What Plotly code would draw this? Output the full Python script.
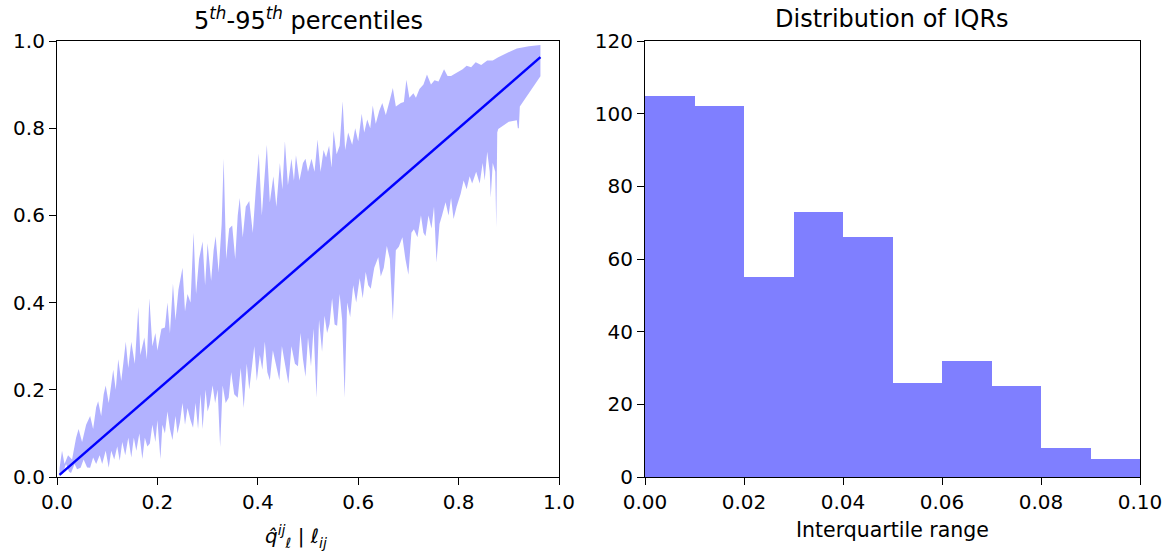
import plotly.graph_objects as go

# ---------------- data ----------------
# Upper (95th percentile) envelope
upper_x = [0.005,0.010,0.015,0.022,0.030,0.038,0.043,0.050,0.058,0.066,0.072,0.078,0.082,0.088,0.093,0.097,0.103,0.108,0.112,0.117,
           0.122,0.128,0.133,0.137,0.142,0.148,0.155,0.162,0.166,0.174,0.179,0.184,0.190,0.196,0.200,0.208,0.215,0.220,0.225,0.231,
           0.236,0.242,0.250,0.255,0.260,0.266,0.272,0.277,0.283,0.290,0.295,0.300,0.307,0.312,0.316,0.322,0.328,0.332,0.337,0.343,
           0.349,0.355,0.360,0.364,0.370,0.376,0.383,0.390,0.396,0.402,0.408,0.413,0.418,0.424,0.431,0.437,0.444,0.449,0.454,0.460,
           0.467,0.472,0.476,0.483,0.490,0.495,0.500,0.507,0.513,0.519,0.525,0.531,0.536,0.542,0.547,0.551,0.557,0.563,0.569,0.574,
           0.580,0.588,0.594,0.600,0.607,0.612,0.618,0.624,0.629,0.635,0.642,0.648,0.655,0.662,0.669,0.675,0.685,0.691,0.696,0.702,
           0.710,0.715,0.722,0.730,0.737,0.745,0.752,0.760,0.765,0.771,0.778,0.785,0.790,0.800,0.808,0.816,0.825,0.834,0.845,0.857,
           0.868,0.879,0.900,0.916,0.940,0.963]
upper_y = [0.020,0.060,0.030,0.050,0.040,0.090,0.110,0.080,0.120,0.140,0.110,0.160,0.174,0.140,0.190,0.210,0.170,0.220,0.246,0.200,
           0.270,0.220,0.280,0.310,0.250,0.310,0.260,0.390,0.280,0.320,0.270,0.410,0.300,0.330,0.290,0.340,0.343,0.400,0.330,0.444,
           0.360,0.430,0.480,0.380,0.420,0.400,0.560,0.420,0.500,0.540,0.440,0.536,0.450,0.520,0.552,0.470,0.580,0.730,0.500,0.570,
           0.577,0.500,0.600,0.640,0.550,0.620,0.633,0.560,0.660,0.742,0.600,0.690,0.762,0.630,0.690,0.620,0.720,0.660,0.770,0.670,
           0.730,0.680,0.738,0.680,0.720,0.730,0.700,0.730,0.700,0.774,0.700,0.750,0.733,0.760,0.710,0.794,0.740,0.760,0.862,0.750,
           0.790,0.762,0.800,0.770,0.833,0.790,0.820,0.800,0.852,0.810,0.840,0.858,0.830,0.860,0.892,0.850,0.858,0.860,0.911,0.870,
           0.880,0.870,0.890,0.900,0.923,0.900,0.910,0.907,0.920,0.935,0.920,0.920,0.923,0.930,0.935,0.943,0.940,0.951,0.945,0.955,
           0.955,0.963,0.975,0.983,0.988,0.991]

# Lower (5th percentile) envelope
lower_x = [0.005,0.012,0.018,0.024,0.028,0.035,0.040,0.047,0.053,0.060,0.066,0.072,0.078,0.085,0.090,0.097,0.103,0.108,0.114,0.120,
           0.125,0.130,0.136,0.142,0.148,0.153,0.158,0.164,0.170,0.175,0.180,0.185,0.190,0.196,0.200,0.206,0.210,0.215,0.220,0.225,
           0.230,0.236,0.240,0.245,0.250,0.255,0.260,0.266,0.271,0.276,0.281,0.286,0.290,0.296,0.300,0.304,0.310,0.315,0.320,0.325,
           0.330,0.336,0.342,0.347,0.353,0.360,0.366,0.372,0.378,0.383,0.387,0.393,0.398,0.404,0.409,0.414,0.419,0.424,0.430,0.436,
           0.443,0.448,0.455,0.461,0.467,0.474,0.480,0.485,0.490,0.495,0.500,0.506,0.511,0.517,0.522,0.528,0.533,0.538,0.543,0.548,
           0.553,0.558,0.563,0.568,0.573,0.578,0.584,0.590,0.596,0.603,0.609,0.615,0.620,0.625,0.632,0.640,0.645,0.651,0.657,0.663,
           0.669,0.675,0.681,0.688,0.694,0.700,0.706,0.711,0.718,0.725,0.730,0.734,0.740,0.746,0.751,0.756,0.762,0.767,0.774,0.780,
           0.785,0.790,0.796,0.804,0.810,0.816,0.822,0.827,0.835,0.842,0.848,0.852,0.857,0.862,0.864,0.868,0.873,0.875,0.877,0.879,
           0.900,0.916,0.918,0.920,0.922,0.924,0.963]
lower_y = [0.002,0.010,0.030,0.012,0.009,0.030,0.018,0.021,0.040,0.022,0.021,0.045,0.030,0.050,0.030,0.060,0.021,0.060,0.040,0.070,
           0.037,0.080,0.050,0.090,0.045,0.090,0.060,0.100,0.041,0.090,0.070,0.077,0.120,0.080,0.130,0.041,0.120,0.100,0.150,0.110,
           0.085,0.140,0.100,0.126,0.170,0.120,0.158,0.130,0.113,0.170,0.110,0.190,0.110,0.200,0.150,0.166,0.210,0.170,0.200,0.069,
           0.210,0.170,0.182,0.240,0.190,0.182,0.250,0.158,0.260,0.200,0.238,0.300,0.220,0.280,0.246,0.310,0.240,0.222,0.290,0.260,
           0.222,0.300,0.250,0.214,0.300,0.260,0.254,0.330,0.270,0.230,0.320,0.254,0.340,0.182,0.360,0.287,0.370,0.330,0.351,0.410,
           0.350,0.347,0.420,0.360,0.182,0.400,0.367,0.440,0.400,0.456,0.410,0.470,0.440,0.432,0.480,0.504,0.460,0.480,0.530,0.500,
           0.359,0.520,0.528,0.550,0.500,0.464,0.560,0.568,0.550,0.600,0.560,0.552,0.600,0.570,0.620,0.492,0.580,0.600,0.630,0.600,
           0.640,0.592,0.620,0.649,0.680,0.660,0.690,0.673,0.700,0.673,0.720,0.680,0.746,0.700,0.641,0.720,0.700,0.572,0.790,0.798,
           0.815,0.818,0.800,0.800,0.850,0.852,0.919]

# Diagonal (median) line
line_x = [0.005, 0.963]
line_y = [0.005, 0.963]

# Histogram of IQRs
bin_left = [0.00, 0.01, 0.02, 0.03, 0.04, 0.05, 0.06, 0.07, 0.08, 0.09]
bin_counts = [105, 102, 55, 73, 66, 26, 32, 25, 8, 5]
bin_width = 0.01

# ---------------- figure ----------------
FONT = "DejaVu Sans"
W, H = 1171, 552
fig = go.Figure()

band_x = upper_x + lower_x[::-1]
band_y = upper_y + lower_y[::-1]
fig.add_trace(go.Scatter(x=band_x, y=band_y, mode="lines", fill="toself",
                         fillcolor="rgba(0,0,255,0.3)", line=dict(width=0),
                         xaxis="x", yaxis="y", showlegend=False, hoverinfo="skip"))
fig.add_trace(go.Scatter(x=line_x, y=line_y, mode="lines",
                         line=dict(color="#0000ff", width=2.5),
                         xaxis="x", yaxis="y", showlegend=False))

fig.add_trace(go.Bar(x=[b + bin_width / 2 for b in bin_left], y=bin_counts, width=bin_width,
                     marker=dict(color="rgba(0,0,255,0.5)", line=dict(width=0)),
                     xaxis="x2", yaxis="y2", showlegend=False))

ydom = [(H - 477) / H, (H - 41) / H]
axis_common = dict(showline=True, linecolor="black", linewidth=1.2, mirror=True,
                   ticks="outside", ticklen=7, tickwidth=1.1, tickcolor="black",
                   showgrid=False, zeroline=False, automargin=False,
                   tickfont=dict(family=FONT, size=20, color="black"))

fig.update_layout(
    width=W, height=H,
    margin=dict(l=0, r=0, t=0, b=0),
    paper_bgcolor="white", plot_bgcolor="white",
    bargap=0,
    xaxis=dict(domain=[57 / W, 559 / W], range=[0, 1], tickvals=[0, 0.2, 0.4, 0.6, 0.8, 1.0],
               ticktext=["0.0", "0.2", "0.4", "0.6", "0.8", "1.0"], anchor="y", **axis_common),
    yaxis=dict(domain=ydom, range=[0, 1], tickvals=[0, 0.2, 0.4, 0.6, 0.8, 1.0],
               ticktext=["0.0", "0.2", "0.4", "0.6", "0.8", "1.0"], anchor="x", **axis_common),
    xaxis2=dict(domain=[645 / W, 1140 / W], range=[0, 0.1],
                tickvals=[0, 0.02, 0.04, 0.06, 0.08, 0.10],
                ticktext=["0.00", "0.02", "0.04", "0.06", "0.08", "0.10"], anchor="y2", **axis_common),
    yaxis2=dict(domain=ydom, range=[0, 120], tickvals=[0, 20, 40, 60, 80, 100, 120],
                anchor="x2", **axis_common),
    font=dict(family=FONT, color="black"),
)

annotations = [
    dict(text="5<sup><i>th</i></sup>-95<sup><i>th</i></sup> percentiles", x=308 / W, y=1 - 19 / H,
         xref="paper", yref="paper", showarrow=False, font=dict(family=FONT, size=24, color="black"),
         xanchor="center", yanchor="middle"),
    dict(text="Distribution of IQRs", x=892 / W, y=1 - 19 / H,
         xref="paper", yref="paper", showarrow=False, font=dict(family=FONT, size=24, color="black"),
         xanchor="center", yanchor="middle"),
    dict(text="<i>q̂</i><sup><i>ij</i></sup><sub><i>ℓ</i></sub> | <i>ℓ</i><sub><i>ij</i></sub>",
         x=296 / W, y=1 - 536 / H, xref="paper", yref="paper", showarrow=False,
         font=dict(family=FONT, size=20, color="black"), xanchor="center", yanchor="middle"),
    dict(text="Interquartile range", x=892 / W, y=1 - 530 / H,
         xref="paper", yref="paper", showarrow=False, font=dict(family=FONT, size=20.5, color="black"),
         xanchor="center", yanchor="middle"),
]
fig.update_layout(annotations=annotations)

fig.write_html("out.html")
